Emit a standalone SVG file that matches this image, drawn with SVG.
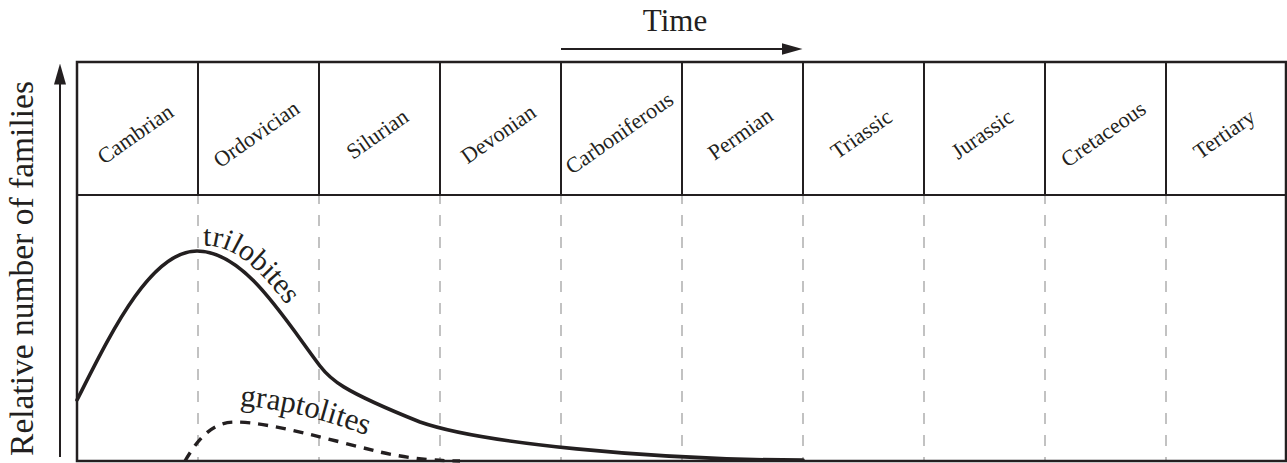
<svg xmlns="http://www.w3.org/2000/svg" xmlns:xlink="http://www.w3.org/1999/xlink" width="1287" height="463" viewBox="0 0 1287 463">
  <style>
    .ink { fill: #231f20; }
    .frame { fill: none; stroke: #231f20; stroke-width: 2.5; }
    .div { stroke: #231f20; stroke-width: 2; }
    .grid { stroke: #b3b3b3; stroke-width: 1.6; stroke-dasharray: 11 11; }
    .axis { stroke: #231f20; stroke-width: 2; fill: none; }
    .tri { fill: none; stroke: #231f20; stroke-width: 3.6; stroke-linecap: round; }
    .grap { fill: none; stroke: #231f20; stroke-width: 3.4; stroke-dasharray: 10 8; }
  </style>
  <defs>
    <marker id="head" viewBox="0 0 21 12" refX="0.5" refY="6" markerWidth="21" markerHeight="12" markerUnits="userSpaceOnUse" orient="auto">
      <path d="M0,0 L21,6 L0,12 z" class="ink"/>
    </marker>
    <path id="triPath" d="M201,246 C 228,243 258,262 300,324"/>
    <path id="grapPath" d="M240,406 Q 300,409 382,441"/>
  </defs>

  <rect width="1287" height="463" fill="#ffffff"/>

  <g id="grid">
    <line class="grid" x1="198" y1="193" x2="198" y2="461"/>
    <line class="grid" x1="319" y1="193" x2="319" y2="461"/>
    <line class="grid" x1="440" y1="193" x2="440" y2="461"/>
    <line class="grid" x1="561" y1="193" x2="561" y2="461"/>
    <line class="grid" x1="682" y1="193" x2="682" y2="461"/>
    <line class="grid" x1="803" y1="193" x2="803" y2="461"/>
    <line class="grid" x1="924" y1="193" x2="924" y2="461"/>
    <line class="grid" x1="1045" y1="193" x2="1045" y2="461"/>
    <line class="grid" x1="1166" y1="193" x2="1166" y2="461"/>
  </g>

  <g id="chart-frame">
    <rect class="frame" x="77" y="62" width="1209" height="399"/>
    <line class="div" x1="77" y1="195" x2="1286" y2="195"/>
    <line class="div" x1="198" y1="62" x2="198" y2="195"/>
    <line class="div" x1="319" y1="62" x2="319" y2="195"/>
    <line class="div" x1="440" y1="62" x2="440" y2="195"/>
    <line class="div" x1="561" y1="62" x2="561" y2="195"/>
    <line class="div" x1="682" y1="62" x2="682" y2="195"/>
    <line class="div" x1="803" y1="62" x2="803" y2="195"/>
    <line class="div" x1="924" y1="62" x2="924" y2="195"/>
    <line class="div" x1="1045" y1="62" x2="1045" y2="195"/>
    <line class="div" x1="1166" y1="62" x2="1166" y2="195"/>
  </g>

  <g font-family="'Liberation Serif', 'DejaVu Serif', serif" fill="#231f20">
    <g font-size="22" text-anchor="middle">
      <g id="period-cambrian"><text transform="translate(139.5,140) rotate(-35)">Cambrian</text></g>
      <g id="period-ordovician"><text transform="translate(260.5,140) rotate(-35)">Ordovician</text></g>
      <g id="period-silurian"><text transform="translate(381.5,140) rotate(-35)">Silurian</text></g>
      <g id="period-devonian"><text transform="translate(502.5,140) rotate(-35)">Devonian</text></g>
      <g id="period-carboniferous"><text transform="translate(623.5,139) rotate(-35)">Carboniferous</text></g>
      <g id="period-permian"><text transform="translate(744.5,140) rotate(-35)">Permian</text></g>
      <g id="period-triassic"><text transform="translate(865.5,140) rotate(-35)">Triassic</text></g>
      <g id="period-jurassic"><text transform="translate(986.5,140) rotate(-35)">Jurassic</text></g>
      <g id="period-cretaceous"><text transform="translate(1107.5,140) rotate(-35)">Cretaceous</text></g>
      <g id="period-tertiary"><text transform="translate(1228.5,140) rotate(-35)">Tertiary</text></g>
    </g>

    <g id="time-label"><text x="675" y="31" font-size="31" text-anchor="middle">Time</text></g>
    <g id="y-label"><text transform="translate(33,268.5) rotate(-90)" font-size="33.5" text-anchor="middle">Relative number of families</text></g>
  </g>

  <g id="connectors">
    <line class="axis" x1="561" y1="49" x2="782" y2="49" marker-end="url(#head)"/>
    <line class="axis" x1="60" y1="457" x2="60" y2="84" marker-end="url(#head)"/>
  </g>

  <g id="trilobites">
    <path class="tri" d="M77,400 C 110,335 150,251 197,251 C 245,251 285,320 320,366 C 330,379 340,390 420,422 C 480,443 650,460 803,460"/>
    <text font-family="'Liberation Serif', 'DejaVu Serif', serif" fill="#231f20" font-size="30"><textPath xlink:href="#triPath" href="#triPath" startOffset="2">trilobites</textPath></text>
  </g>

  <g id="graptolites">
    <path class="grap" d="M185,461 C 200,435 215,422 235,422 C 270,422 330,440 380,452 C 410,459 440,461 460,461"/>
    <text font-family="'Liberation Serif', 'DejaVu Serif', serif" fill="#231f20" font-size="31"><textPath xlink:href="#grapPath" href="#grapPath">graptolites</textPath></text>
  </g>
</svg>
